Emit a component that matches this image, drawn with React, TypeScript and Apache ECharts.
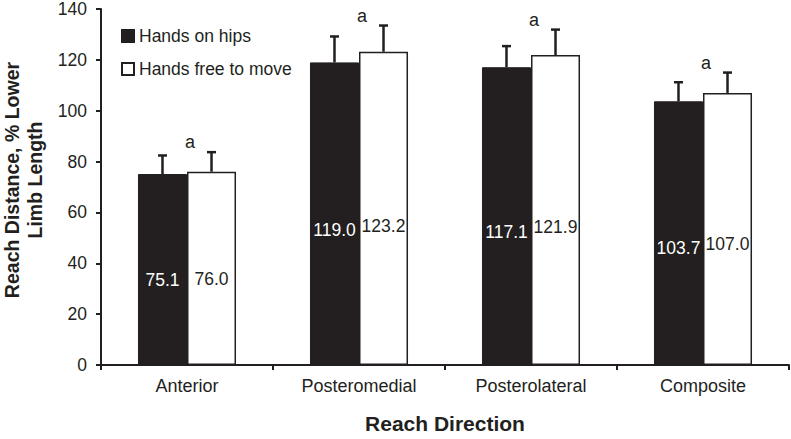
import React, { useEffect, useRef } from "react";
import * as echarts from "echarts";

const categories = ["Anterior", "Posteromedial", "Posterolateral", "Composite"];
const hipsValues = [75.1, 119.0, 117.1, 103.7];
const hipsErrors = [7.3, 10.2, 8.3, 7.5];
const freeValues = [76.0, 123.2, 121.9, 107.0];
const freeErrors = [7.7, 10.3, 10.0, 8.0];
const sigMarks = ["a", "a", "a", "a"];
const yTicks = { min: 0, max: 140, interval: 20 };

const FONT = "'Liberation Sans', Arial, Helvetica, sans-serif";
const INK = "#231f20";
const GAP = 0.43;

export default function App() {
  const ref = useRef<HTMLDivElement>(null);
  useEffect(() => {
    if (!ref.current) return;
    const chart = echarts.init(ref.current, null, { renderer: "svg" });
    const errData = categories.map((_, i) => [i, hipsValues[i], hipsErrors[i], freeValues[i], freeErrors[i]]);
    const barLabel = (color: string) => ({
      show: true,
      position: ["50%", "55.5%"],
      align: "center",
      verticalAlign: "middle",
      formatter: (p: any) => p.value.toFixed(1),
      color,
      fontFamily: FONT,
      fontSize: 17.5,
    });
    chart.setOption({
      animation: false,
      backgroundColor: "#ffffff",
      textStyle: { fontFamily: FONT, color: INK },
      grid: { left: 101, right: 2, top: 7, bottom: 67, containLabel: false },
      graphic: [
        {
          type: "text",
          rotation: Math.PI / 2,
          x: 23.5,
          y: 180,
          style: {
            text: "Reach Distance, % Lower\nLimb Length",
            align: "center",
            verticalAlign: "middle",
            fill: INK,
            font: `bold 19.5px ${FONT}`,
            lineHeight: 23,
          },
        },
      ],
      legend: {
        orient: "vertical",
        left: 116,
        top: 22,
        itemWidth: 12,
        itemHeight: 12,
        itemGap: 15,
        icon: "rect",
        textStyle: { fontFamily: FONT, fontSize: 17.5, color: INK },
        data: ["Hands on hips", "Hands free to move"],
      },
      xAxis: {
        type: "category",
        data: categories,
        name: "Reach Direction",
        nameLocation: "middle",
        nameGap: 48,
        nameTextStyle: { fontFamily: FONT, fontSize: 21, fontWeight: "bold", color: INK },
        axisLine: { lineStyle: { color: INK, width: 2 } },
        axisTick: { show: true, alignWithLabel: false, length: 5, lineStyle: { color: INK, width: 2 } },
        axisLabel: { fontFamily: FONT, fontSize: 18, color: INK, margin: 12 },
      },
      yAxis: {
        type: "value",
        min: yTicks.min,
        max: yTicks.max,
        interval: yTicks.interval,
        axisLine: { show: true, lineStyle: { color: INK, width: 2 } },
        axisTick: { show: true, length: 5, lineStyle: { color: INK, width: 2 } },
        axisLabel: { fontFamily: FONT, fontSize: 17.5, color: INK, margin: 14 },
        splitLine: { show: false },
      },
      series: [
        {
          name: "Hands on hips",
          type: "bar",
          data: hipsValues,
          barGap: "0%",
          barCategoryGap: GAP * 100 + "%",
          itemStyle: { color: INK, borderColor: INK, borderWidth: 1 },
          label: barLabel("#ffffff"),
          z: 2,
        },
        {
          name: "Hands free to move",
          type: "bar",
          data: freeValues,
          barGap: "0%",
          barCategoryGap: GAP * 100 + "%",
          itemStyle: { color: "#ffffff", borderColor: INK, borderWidth: 1.5 },
          label: barLabel(INK),
          z: 2,
        },
        {
          type: "custom",
          data: errData,
          encode: { x: 0, y: 1 },
          z: 3,
          silent: true,
          renderItem: (params: any, api: any) => {
            const idx = api.value(0);
            const bandW = api.size([1, 0])[0];
            const barW = (bandW * (1 - GAP)) / 2;
            const children: any[] = [];
            const tops: number[] = [];
            [
              [api.value(1), api.value(2), -barW / 2],
              [api.value(3), api.value(4), barW / 2],
            ].forEach(([v, e, off]: any) => {
              const base = api.coord([idx, v]);
              const top = api.coord([idx, v + e]);
              const x = base[0] + off;
              tops.push(top[1]);
              children.push({
                type: "line",
                shape: { x1: x, y1: base[1], x2: x, y2: top[1] },
                style: { stroke: INK, lineWidth: 2.5 },
              });
              children.push({
                type: "line",
                shape: { x1: x - 4.5, y1: top[1], x2: x + 4.5, y2: top[1] },
                style: { stroke: INK, lineWidth: 2.5 },
              });
            });
            const c = api.coord([idx, 0]);
            children.push({
              type: "text",
              style: {
                text: sigMarks[params.dataIndex],
                x: c[0] + 3,
                y: Math.min(...tops) - 10,
                align: "center",
                verticalAlign: "middle",
                fill: INK,
                font: `18px ${FONT}`,
              },
            });
            return { type: "group", children };
          },
        },
      ],
    });
    return () => chart.dispose();
  }, []);
  return <div ref={ref} style={{ width: 791, height: 439, position: "absolute", left: 0, top: 0 }} />;
}
